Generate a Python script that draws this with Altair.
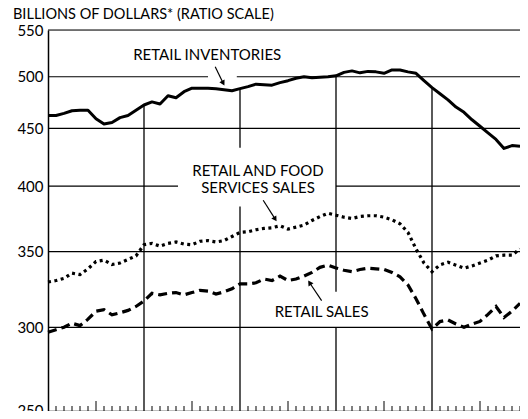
import altair as alt
import pandas as pd

# ---- data (monthly, index 0 = first month shown) ----
months = list(range(60))
retail_inventories = [462, 462, 464, 466.5, 467, 467, 459, 454, 455.5, 460, 462, 467,
                      472, 475, 473, 481, 479, 485, 488.5, 488.5, 488.5, 488, 487, 486,
                      488, 490, 492.5, 492, 491.5, 494, 496, 498.5, 500, 499, 499.5, 500,
                      501, 504.5, 506, 504, 505.5, 505, 503.5, 507, 507, 505, 503.5, 496,
                      489, 483, 477, 470, 465, 458, 452, 446, 440, 432, 434.5, 434]
retail_food_services = [329, 330, 331.5, 335, 334, 338, 343, 344, 341, 342, 344.5, 347,
                        355, 356, 354, 356, 357, 355.5, 355, 357.5, 358, 357, 358, 361,
                        364, 364.5, 366, 367, 367.5, 369, 366.5, 368, 369.5, 373, 376, 378.5,
                        377, 375.5, 374.5, 376, 376.6, 376.6, 375.5, 373.5, 370.5, 364, 352, 342,
                        336, 340.7, 342.5, 340.5, 338.4, 340, 342, 344, 347, 347.5, 347.5, 352]
retail_sales = [297, 298.5, 300, 302.5, 301, 305, 310, 311, 307.7, 309, 310.5, 313,
                316.5, 321.5, 320.5, 321.5, 322, 320.5, 322, 323.5, 323, 321, 322.5, 324.5,
                327.7, 327.7, 328.5, 331, 330, 333, 330, 331, 333, 335.5, 339, 340.5,
                338.6, 337, 336, 337.5, 338.4, 338, 337.5, 335.5, 332.5, 327, 318, 308,
                299, 303.5, 304.5, 302, 300, 302, 303.6, 308, 313, 306, 310, 315]

y_ticks = [250, 300, 350, 400, 450, 500, 550]
title_text = "BILLIONS OF DOLLARS* (RATIO SCALE)"

# horizontal grid segments (x from, x to, value)
h_from = [0, 0, 0, 0, 23.6, 0, 36, 0]
h_to = [59, 59, 59, 20, 59, 16.25, 59, 59]
h_val = [450, 350, 300, 500, 500, 400, 400, 550]

# vertical (year) segments (month, value from, value to)
v_month = [12, 24, 24, 36, 36, 48]
v_lo = [250, 250, 432.6, 250, 322.5, 250]
v_hi = [473, 383.8, 488, 300, 500, 489]

# labels
lab_text = ["RETAIL INVENTORIES", "RETAIL AND FOOD", "SERVICES SALES", "RETAIL SALES"]
lab_x = [19.9, 26.25, 26.25, 34.2]
lab_y = [522.7, 412.4, 398.3, 309.8]

# arrows
arr_x1 = [20.9, 26.9, 34.2]
arr_y1 = [510.3, 388.7, 316.8]
arr_x2 = [21.9, 28.4, 32.7]
arr_y2 = [493.5, 374.0, 328.5]
arr_angle = [151, 147, 327]

FONT = "Lato"

df = pd.DataFrame({"m": months, "inv": retail_inventories,
                   "rfs": retail_food_services, "rs": retail_sales})
hg = pd.DataFrame({"x1": h_from, "x2": h_to, "y": h_val})
vg = pd.DataFrame({"x": v_month, "y1": v_lo, "y2": v_hi})
tick_df = pd.DataFrame({"m": [m for m in months if 0 < m and m % 12 != 0]})
tick_df["mid"] = tick_df["m"] % 12 == 6
labs = pd.DataFrame({"t": lab_text, "x": lab_x, "y": lab_y})
arr = pd.DataFrame({"x1": arr_x1, "y1": arr_y1, "x2": arr_x2, "y2": arr_y2, "a": arr_angle})
tdf = pd.DataFrame({"t": [title_text]})

W = 472      # 8 px per month
H = 381      # visible plot height (page is cut below)
YR = 386.7   # full ratio-scale range 250..550

xs = alt.Scale(domain=[0, 59], nice=False, zero=False)
ys = alt.Scale(type="log", domain=[250, 550], nice=False, range=[YR, 0])

xaxis = alt.Axis(labels=False, ticks=False, grid=False, title=None, domain=True,
                 domainColor="black", domainWidth=1.5)
yaxis = alt.Axis(values=y_ticks, ticks=False, grid=False, title=None, domain=True,
                 domainColor="black", domainWidth=1.5, labelFont=FONT, labelFontSize=15,
                 labelColor="black", labelPadding=5, labelFlush=False, format="d",
                 labelOffset={"condition": {"test": "datum.value == 250", "value": -6},
                              "value": 0})

hrules = alt.Chart(hg).mark_rule(color="black", strokeWidth=1.2).encode(
    x=alt.X("x1:Q", scale=xs, axis=xaxis), x2="x2:Q",
    y=alt.Y("y:Q", scale=ys, axis=yaxis))
vrules = alt.Chart(vg).mark_rule(color="black", strokeWidth=1.3).encode(
    x=alt.X("x:Q", scale=xs), y=alt.Y("y1:Q", scale=ys), y2="y2:Q")
short_ticks = alt.Chart(tick_df).transform_filter("!datum.mid").mark_rule(
    color="black", strokeWidth=1).encode(
    x=alt.X("m:Q", scale=xs), y=alt.value(H), y2=alt.value(H - 5))
mid_ticks = alt.Chart(tick_df).transform_filter("datum.mid").mark_rule(
    color="black", strokeWidth=1).encode(
    x=alt.X("m:Q", scale=xs), y=alt.value(H), y2=alt.value(H - 10))

inv = alt.Chart(df).mark_line(color="black", strokeWidth=3, strokeJoin="round").encode(
    x=alt.X("m:Q", scale=xs), y=alt.Y("inv:Q", scale=ys))
rfs = alt.Chart(df).mark_line(color="black", strokeWidth=3.2, strokeDash=[3, 3.5]).encode(
    x=alt.X("m:Q", scale=xs), y=alt.Y("rfs:Q", scale=ys))
rs = alt.Chart(df).mark_line(color="black", strokeWidth=3.2, strokeDash=[9, 5]).encode(
    x=alt.X("m:Q", scale=xs), y=alt.Y("rs:Q", scale=ys))

texts = alt.Chart(labs).mark_text(font=FONT, fontSize=15, color="black",
                                  align="center", baseline="middle").encode(
    x=alt.X("x:Q", scale=xs), y=alt.Y("y:Q", scale=ys), text="t:N")
arr_lines = alt.Chart(arr).mark_rule(color="black", strokeWidth=1.2).encode(
    x=alt.X("x1:Q", scale=xs), x2="x2:Q", y=alt.Y("y1:Q", scale=ys), y2="y2:Q")
arr_heads = alt.Chart(arr).mark_point(shape="triangle-up", filled=True, color="black",
                                      size=35, opacity=1).encode(
    x=alt.X("x2:Q", scale=xs), y=alt.Y("y2:Q", scale=ys), angle=alt.Angle("a:Q", scale=None))
title = alt.Chart(tdf).mark_text(font=FONT, fontSize=14.5, color="black", align="left",
                                 baseline="alphabetic").encode(
    x=alt.value(-35), y=alt.value(-11), text="t:N")

chart = alt.layer(hrules, vrules, short_ticks, mid_ticks, inv, rfs, rs,
                  texts, arr_lines, arr_heads, title).properties(
    width=W, height=H,
    padding={"left": 40, "top": 22, "right": 0, "bottom": 0},
    autosize=alt.AutoSizeParams(type="none"),
).configure_view(stroke=None).configure(background="white")

chart.save("out.html", embed_options={"renderer": "svg", "actions": False})
